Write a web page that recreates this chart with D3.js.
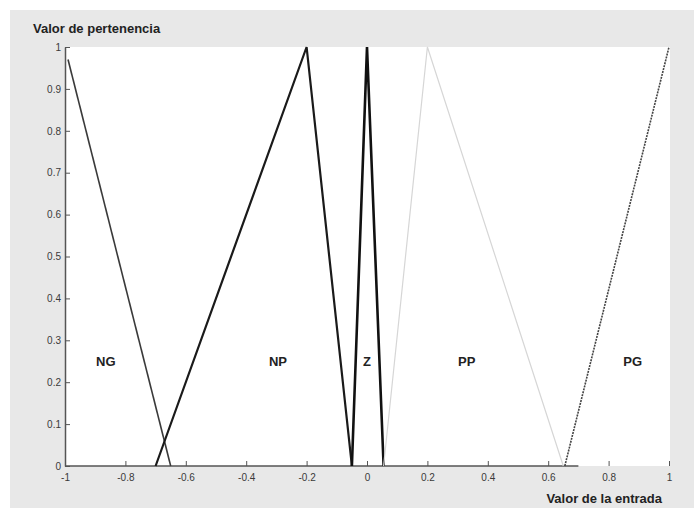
<!DOCTYPE html>
<html><head><meta charset="utf-8">
<script src="https://cdn.jsdelivr.net/npm/d3@7"></script>
<style>body{margin:0;background:#fff;}svg{display:block;}</style>
</head><body>
<svg id="c" width="699" height="513"></svg>
<script>
// Membership functions (x, y) vertices
const mfNames = ["NG", "NP", "Z", "PP", "PG"];
const mfNG = [[-0.99, 0.97], [-0.65, 0]];
const mfNP = [[-0.70, 0], [-0.20, 1], [-0.05, 0]];
const mfZ  = [[-0.05, 0], [0.0, 1], [0.055, 0]];
const mfPP = [[0.055, 0], [0.20, 1], [0.65, 0]];
const mfPG = [[0.655, 0], [1.0, 1]];
const labelX = [-0.865, -0.295, 0.0, 0.33, 0.88];
const labelY = 0.25;
const xTicks = [-1, -0.8, -0.6, -0.4, -0.2, 0, 0.2, 0.4, 0.6, 0.8, 1];
const xTickLabels = ["-1", "-0.8", "-0.6", "-0.4", "-0.2", "0", "0.2", "0.4", "0.6", "0.8", "1"];
const yTicks = [0, 0.1, 0.2, 0.3, 0.4, 0.5, 0.6, 0.7, 0.8, 0.9, 1];
const yTickLabels = ["0", "0.1", "0.2", "0.3", "0.4", "0.5", "0.6", "0.7", "0.8", "0.9", "1"];

const svg = d3.select("#c");
const L = 65, R = 669, T = 47, B = 466;
const x = d3.scaleLinear().domain([-1, 1]).range([L, R]);
const y = d3.scaleLinear().domain([0, 1]).range([B, T]);

// background
svg.append("rect").attr("x", 10).attr("y", 10).attr("width", 684).attr("height", 498).attr("fill", "#e8e8e8");
svg.append("rect").attr("x", L).attr("y", T).attr("width", R - L + 1).attr("height", B - T).attr("fill", "#ffffff");

// axes
const tickFont = "10px 'Liberation Sans', Arial, sans-serif";
const xAxis = d3.axisBottom(x).tickValues(xTicks).tickFormat((d, i) => xTickLabels[i]).tickSizeInner(-5).tickSizeOuter(0).tickPadding(8);
const gx = svg.append("g").attr("transform", `translate(0,${B})`).call(xAxis);
gx.select(".domain").remove();
gx.append("line").attr("x1", x(-1)).attr("x2", x(0.7)).attr("y1", 0).attr("y2", 0).attr("stroke", "#555").attr("stroke-width", 1.5);
gx.selectAll(".tick line").attr("stroke", "#555");
gx.selectAll(".tick text").attr("fill", "#3a3a3a").style("font", tickFont);

const yAxis = d3.axisLeft(y).tickValues(yTicks).tickFormat((d, i) => yTickLabels[i]).tickSizeInner(-5).tickSizeOuter(0).tickPadding(4);
const gy = svg.append("g").attr("transform", `translate(${L},0)`).call(yAxis);
gy.select(".domain").attr("stroke", "#555").attr("stroke-width", 1.5);
gy.selectAll(".tick line").attr("stroke", "#555");
gy.selectAll(".tick text").attr("fill", "#3a3a3a").style("font", tickFont);

// lines
const line = d3.line().x(d => x(d[0])).y(d => y(d[1]));
const styles = [
  {data: mfNG, stroke: "#3a3a3a", w: 1.6, dash: null},
  {data: mfNP, stroke: "#1a1a1a", w: 2.2, dash: null},
  {data: mfZ,  stroke: "#111111", w: 2.6, dash: null},
  {data: mfPP, stroke: "#d6d6d6", w: 1.2, dash: null},
  {data: mfPG, stroke: "#444444", w: 1.6, dash: "2,1"}
];
styles.forEach(s => {
  svg.append("path").attr("d", line(s.data)).attr("fill", "none")
    .attr("stroke", s.stroke).attr("stroke-width", s.w)
    .attr("stroke-dasharray", s.dash);
});

// labels
mfNames.forEach((n, i) => {
  svg.append("text").attr("x", x(labelX[i])).attr("y", y(labelY) + 5)
    .attr("text-anchor", "middle").attr("fill", "#222")
    .style("font", "bold 13px 'Liberation Sans', Arial, sans-serif").text(n);
});

svg.append("text").attr("x", 33).attr("y", 33).attr("fill", "#222")
  .style("font", "bold 13px 'Liberation Sans', Arial, sans-serif").text("Valor de pertenencia");
svg.append("text").attr("x", 662).attr("y", 503).attr("text-anchor", "end").attr("fill", "#222")
  .style("font", "bold 13px 'Liberation Sans', Arial, sans-serif").text("Valor de la entrada");
</script>
</body></html>
